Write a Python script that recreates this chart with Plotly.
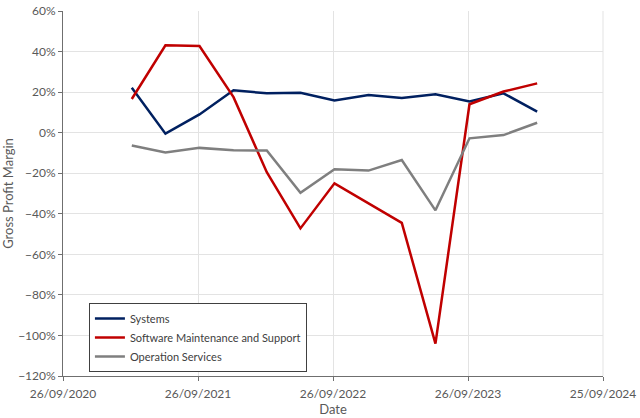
import plotly.graph_objects as go

dates = ["2021-03-31", "2021-06-30", "2021-09-30", "2021-12-31",
         "2022-03-31", "2022-06-30", "2022-09-30", "2022-12-31",
         "2023-03-31", "2023-06-30", "2023-09-30", "2023-12-31",
         "2024-03-31"]
systems = [22.2, -0.5, 9.0, 20.9, 19.4, 19.7, 15.9, 18.6, 17.1, 18.9, 15.4, 19.4, 10.4]
software = [16.6, 43.1, 42.7, 17.5, -19.5, -47.2, -25.0, -34.7, -44.5, -104.0, 14.0, 20.3, 24.3]
operations = [-6.3, -9.8, -7.5, -8.7, -8.8, -29.7, -18.0, -18.7, -13.5, -38.3, -2.8, -1.2, 4.9]

x_ticks = ["2020-09-26", "2021-09-26", "2022-09-26", "2023-09-26", "2024-09-25"]
x_tick_labels = ["26/09/2020", "26/09/2021", "26/09/2022", "26/09/2023", "25/09/2024"]

series = [
    ("Systems", systems, "#002060"),
    ("Software Maintenance and Support", software, "#C00000"),
    ("Operation Services", operations, "#7F7F7F"),
]

fig = go.Figure()
for name, vals, color in series:
    fig.add_trace(go.Scatter(x=dates, y=vals, name=name, mode="lines",
                             line=dict(color=color, width=2.5)))

font_family = "Lato, 'Open Sans', sans-serif"
fig.update_layout(
    width=640, height=418,
    margin=dict(l=63, r=37, t=11, b=42, autoexpand=False),
    paper_bgcolor="white", plot_bgcolor="white",
    font=dict(family=font_family, color="#595959", size=12),
    showlegend=True,
    legend=dict(x=0.048, y=0.2, xanchor="left", yanchor="top",
                bgcolor="white", bordercolor="#404040", borderwidth=1,
                font=dict(size=11, color="#404040"),
                tracegroupgap=0, itemwidth=30),
    xaxis=dict(type="date", range=["2020-09-26", "2024-09-25"],
               tickvals=x_ticks, ticktext=x_tick_labels,
               showgrid=True, gridcolor="#E3E3E3", gridwidth=1,
               showline=True, linecolor="#6F6F6F", linewidth=1,
               ticks="outside", ticklen=4, tickcolor="#6F6F6F",
               ticklabelstandoff=3,
               automargin=False,
               title=dict(text="Date", font=dict(size=13, color="#595959"), standoff=2),
               zeroline=False),
    yaxis=dict(range=[-120, 60], dtick=20, tick0=0, ticksuffix="%",
               showgrid=True, gridcolor="#E3E3E3", gridwidth=1,
               showline=True, linecolor="#6F6F6F", linewidth=1,
               ticks="outside", ticklen=4, tickcolor="#6F6F6F",
               automargin=False,
               title=dict(text="Gross Profit Margin", font=dict(size=13, color="#595959"), standoff=3),
               zeroline=False),
)
fig.add_shape(type="line", xref="paper", yref="paper", x0=1, x1=1, y0=0, y1=1,
              line=dict(color="#E3E3E3", width=1))

fig.write_html("out.html")
